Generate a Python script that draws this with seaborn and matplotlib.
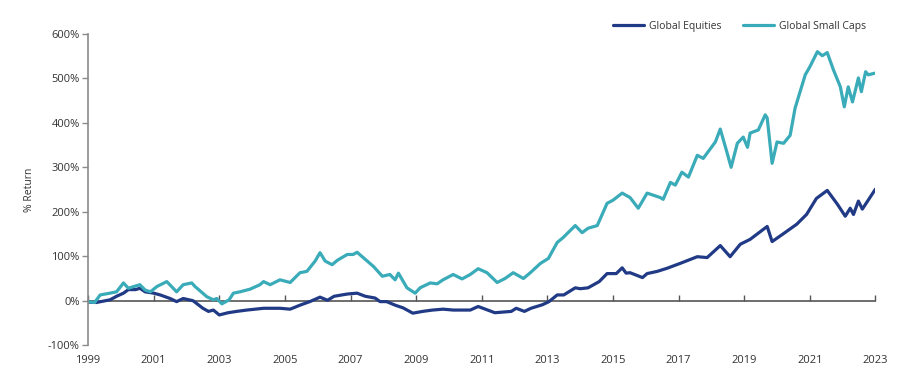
import numpy as np
import pandas as pd
import seaborn as sns
import matplotlib.pyplot as plt
from matplotlib.ticker import FuncFormatter

# values (year, % return)
eq_x = [1999.0, 1999.25, 1999.67, 1999.87, 2000.08, 2000.23, 2000.45, 2000.58, 2000.74,
        2001.0, 2001.2, 2001.5, 2001.7, 2001.9, 2002.2, 2002.5, 2002.67, 2002.82,
        2003.0, 2003.27, 2003.53, 2003.84, 2004.35, 2004.85, 2005.16, 2005.46, 2005.76,
        2006.07, 2006.3, 2006.5, 2006.9, 2007.2, 2007.45, 2007.75, 2007.9,
        2008.1, 2008.36, 2008.6, 2008.9, 2009.2, 2009.5, 2009.82, 2010.13, 2010.65, 2010.89,
        2011.4, 2011.9, 2012.05, 2012.3, 2012.5, 2012.85, 2013.05, 2013.3, 2013.5, 2013.85,
        2014.0, 2014.24, 2014.58, 2014.82, 2015.1, 2015.28, 2015.4, 2015.52, 2015.9,
        2016.04, 2016.35, 2016.65, 2017.05, 2017.57, 2017.87, 2018.27, 2018.57, 2018.88,
        2019.18, 2019.7, 2019.85, 2020.2, 2020.6, 2020.9, 2021.2, 2021.53, 2021.84,
        2022.08, 2022.23, 2022.33, 2022.48, 2022.6, 2023.0]
eq_y = [-3, -4, 2, 10, 17, 25, 25, 28, 20,
        17, 13, 5, -2, 5, 0, -17, -24, -21,
        -32, -27, -24, -21, -17, -17, -19, -10, -2,
        8, 1, 10, 15, 17, 10, 6, -2,
        -2, -10, -16, -28, -24, -21, -19, -21, -21, -13,
        -27, -24, -17, -24, -17, -9, -2, 13, 13, 29,
        27, 29, 43, 61, 61, 74, 62, 63, 52,
        61, 66, 73, 84, 99, 97, 124, 99, 127,
        138, 167, 133, 151, 172, 194, 230, 248, 217,
        190, 208, 194, 224, 206, 251]

sc_x = [1999.0, 1999.2, 1999.37, 1999.67, 1999.87, 2000.08, 2000.23, 2000.4, 2000.58, 2000.74, 2000.9,
        2001.1, 2001.4, 2001.7, 2001.9, 2002.16, 2002.26, 2002.62, 2002.82, 2002.92,
        2003.08, 2003.3, 2003.43, 2003.63, 2003.94, 2004.24, 2004.35, 2004.55, 2004.85,
        2005.16, 2005.46, 2005.67, 2005.92, 2006.07, 2006.23, 2006.44, 2006.6, 2006.9,
        2007.08, 2007.2, 2007.45, 2007.7, 2007.97, 2008.2, 2008.36, 2008.46, 2008.72, 2008.97,
        2009.12, 2009.43, 2009.64, 2009.82, 2010.13, 2010.4, 2010.65, 2010.89,
        2011.16, 2011.47, 2011.71, 2011.96, 2012.27, 2012.48, 2012.79,
        2013.03, 2013.3, 2013.48, 2013.85, 2014.06, 2014.24, 2014.52, 2014.82,
        2015.0, 2015.28, 2015.52, 2015.77, 2016.04, 2016.44, 2016.53, 2016.75, 2016.9,
        2017.1, 2017.3, 2017.57, 2017.75, 2018.12, 2018.27, 2018.48, 2018.6, 2018.79, 2018.97,
        2019.1, 2019.18, 2019.43, 2019.64, 2019.7, 2019.85, 2020.0, 2020.2, 2020.4, 2020.55, 2020.86,
        2021.0, 2021.23, 2021.38, 2021.53, 2021.72, 2021.93,
        2022.05, 2022.17, 2022.3, 2022.48, 2022.57, 2022.7, 2022.78, 2023.0]
sc_y = [-2, -4, 13, 17, 20, 40, 28, 32, 36, 24, 20,
        32, 43, 20, 36, 40, 32, 9, 2, 5,
        -7, 2, 17, 20, 26, 36, 43, 36, 47,
        41, 63, 66, 89, 108, 89, 81, 91, 104,
        104, 109, 93, 77, 55, 59, 47, 62, 29, 17,
        29, 40, 38, 47, 59, 49, 59, 72,
        63, 41, 50, 63, 50, 63, 84,
        95, 131, 142, 169, 153, 163, 169, 219,
        226, 242, 232, 208, 242, 232, 228, 266, 260,
        289, 278, 327, 320, 357, 386, 332, 300, 354, 368,
        345, 377, 384, 418, 411, 309, 357, 354, 372, 433, 508,
        526, 560, 551, 558, 519, 481,
        436, 481, 447, 501, 470, 515, 508, 512]

series = ["Global Equities", "Global Small Caps"]
colors = ["#213a85", "#3aabb8"]
year_ticks = list(range(1999, 2024, 2))
pct_ticks = [-100, 0, 100, 200, 300, 400, 500, 600]

df = pd.concat([
    pd.DataFrame({"year": eq_x, "ret": eq_y, "series": series[0]}),
    pd.DataFrame({"year": sc_x, "ret": sc_y, "series": series[1]}),
])

sns.set_style("white")
plt.rcParams["font.family"] = ["Open Sans", "DejaVu Sans"]

fig = plt.figure(figsize=(9.03, 3.81), dpi=100)
ax = fig.add_axes([0.0975, 0.094, 0.872, 0.817])

sns.lineplot(data=df, x="year", y="ret", hue="series", palette=colors,
             hue_order=series, linewidth=2.3, ax=ax, estimator=None, sort=True)

ax.set_xlim(1999, 2023)
ax.set_ylim(-100, 600)
ax.set_xticks(year_ticks)
ax.set_yticks(pct_ticks)
ax.yaxis.set_major_formatter(FuncFormatter(lambda v, p: f"{int(v)}%"))

ax.spines["top"].set_visible(False)
ax.spines["right"].set_visible(False)
ax.spines["left"].set_color("#8a8a8a")
ax.spines["bottom"].set_color("#555555")
ax.spines["bottom"].set_position(("data", 0))
ax.spines["left"].set_linewidth(1.2)
ax.spines["bottom"].set_linewidth(1.2)
ax.spines["bottom"].set_zorder(1)

ax.tick_params(axis="x", direction="in", length=4, width=1, color="#555555",
               pad=39, labelsize=8, labelcolor="#333333")
ax.tick_params(axis="y", direction="out", length=4, width=1, color="#8a8a8a",
               pad=2, labelsize=8, labelcolor="#333333")
ax.yaxis.set_ticks_position("left")
ax.xaxis.set_ticks_position("bottom")

ax.set_xlabel("")
ax.set_ylabel("% Return", fontsize=7.5, color="#333333", labelpad=9)

ax.legend(loc="center right", bbox_to_anchor=(1.0, 1.025), ncol=2, frameon=False,
          fontsize=7.5, handlelength=3.0, columnspacing=2.0, handletextpad=0.5,
          labelcolor="#333333")

fig.savefig("out.png", dpi=100)
